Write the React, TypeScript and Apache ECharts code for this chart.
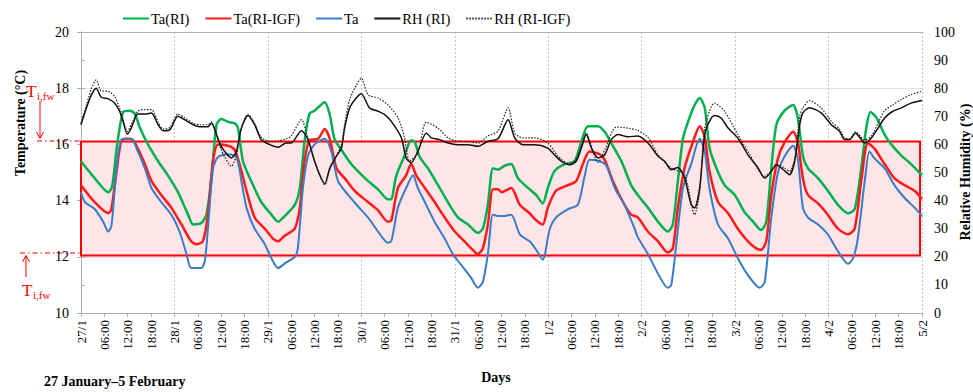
import React, { useEffect, useRef } from "react";
import * as echarts from "echarts";

const dayLabels = ["27/1", "28/1", "29/1", "30/1", "31/1", "1/2", "2/2", "3/2", "4/2", "5/2"];
const hourLabels = ["06:00", "12:00", "18:00"];
const legendNames = ["Ta(RI)", "Ta(RI-IGF)", "Ta", "RH (RI)", "RH (RI-IGF)"];
const comfortBand = [12.05, 16.1];

// [hour since 27/1 00:00, °C]
const taRI: [number, number][] = [
  [0, 15.4], [3.5, 14.8], [7, 14.3], [8, 14.5], [9.2, 15.9], [10.8, 17.15], [12.5, 17.2], [13.8, 17.1], [15.1, 16.6], [17.2, 16.0],
  [19.8, 15.4], [22.3, 14.9], [24.9, 14.3], [27.5, 13.5], [28.8, 13.15], [30.9, 13.2], [32.2, 13.5], [33.5, 14.8], [34.8, 16.7], [36, 16.9],
  [37.8, 16.8], [39.5, 16.75], [40.3, 16.6], [41.6, 15.4], [43.7, 14.7], [46.3, 13.95], [48.9, 13.5], [50.6, 13.25], [52.3, 13.45], [54.9, 13.85],
  [56.2, 14.45], [57.4, 16.1], [58.7, 17.1], [60, 17.2], [62.6, 17.5], [63.9, 17.05], [65.1, 16.2], [66.9, 15.8], [69.4, 15.3], [71.1, 15.05],
  [73.7, 14.7], [76.3, 14.4], [78.8, 14.05], [79.6, 14.05], [81, 14.9], [83.1, 15.6], [84.8, 16.15], [85.7, 16.1], [87, 15.55], [89.1, 15.15],
  [91.7, 14.55], [94.2, 13.95], [96.8, 13.4], [99.4, 13.15], [101.9, 12.85], [103.2, 13.0], [104.5, 13.85], [105.8, 15.15], [107.1, 15.1], [108.9, 15.25],
  [110.5, 15.3], [112.2, 14.8], [114.8, 14.45], [116.9, 14.2], [118.6, 13.9], [119.9, 14.45], [121.6, 15.05], [124.2, 15.3], [126.8, 15.4], [128.5, 16.1],
  [130.2, 16.65], [132.8, 16.65], [134.5, 16.45], [136.2, 16.05], [138.8, 15.4], [141.3, 14.55], [143, 14.2], [145.6, 13.75], [148.2, 13.25], [150.7, 12.9],
  [152, 13.15], [153.3, 14.7], [154.6, 16.2], [155.9, 16.8], [157.6, 17.4], [158.9, 17.65], [160.2, 17.3], [161.4, 15.9], [163.2, 15.15], [165.3, 14.55],
  [167.9, 14.2], [170.4, 13.6], [172.6, 13.25], [174.7, 12.95], [176, 13.25], [177.3, 15.15], [178.6, 16.7], [180.7, 17.2], [182.9, 17.4], [184.1, 16.95],
  [185.4, 15.6], [186.7, 15.15], [189.3, 14.8], [191.8, 14.35], [194.4, 13.85], [197, 13.55], [198.7, 13.7], [200.4, 15.15], [201.7, 16.6], [202.8, 17.15],
  [204.3, 16.95], [206.4, 16.35], [208.1, 16.0], [210.7, 15.6], [213.2, 15.3], [216, 14.9],
];

const taRIIGF: [number, number][] = [
  [0, 14.55], [3.5, 13.95], [7, 13.55], [7.8, 13.7], [9, 14.9], [10.4, 16.15], [12, 16.2], [13.4, 16.15], [14.6, 15.85], [16.4, 15.3],
  [18.1, 14.7], [20.6, 14.2], [23.2, 13.75], [25.8, 13.15], [28.3, 12.55], [29.6, 12.45], [31.3, 12.55], [32.6, 13.5], [33.9, 15.4], [35.2, 16.0],
  [37.8, 15.95], [39.5, 15.8], [41.2, 15.05], [42.5, 14.35], [44.6, 13.4], [47.2, 13.0], [49.3, 12.65], [50.6, 12.55], [52.3, 12.75], [54.9, 13.0],
  [56.2, 13.75], [57.4, 15.4], [58.7, 16.15], [60.9, 16.2], [62.6, 16.55], [63.9, 16.2], [65.6, 15.15], [67.7, 14.8], [70.3, 14.35], [73.7, 13.95],
  [76.3, 13.65], [78.8, 13.25], [79.7, 13.3], [81.4, 14.45], [83.5, 14.9], [84.8, 15.3], [86.1, 14.9], [88.3, 14.45], [90.8, 13.95], [93.4, 13.4],
  [96, 12.9], [98.5, 12.55], [100.2, 12.3], [101.9, 12.1], [103.2, 12.3], [104.5, 13.15], [105.8, 14.4], [107.1, 14.4], [108, 14.3], [110.5, 14.45],
  [112.7, 13.85], [115.2, 13.55], [116.9, 13.3], [118.6, 13.15], [119.9, 13.75], [122, 14.35], [125.1, 14.55], [127.2, 14.7], [128.9, 15.3], [130.6, 15.75],
  [133.2, 15.65], [134.5, 15.45], [136.6, 14.7], [139.2, 13.95], [141.3, 13.5], [143, 13.4], [145.6, 12.9], [148.2, 12.55], [150.7, 12.15], [152, 12.3],
  [153.3, 13.75], [155, 15.15], [157.2, 16.1], [158.9, 16.65], [160.2, 16.25], [161.4, 15.05], [163.6, 13.95], [166.2, 13.55], [168.7, 13.0], [171.3, 12.55],
  [173.4, 12.3], [174.7, 12.25], [176, 12.55], [177.3, 14.2], [179, 15.5], [180.8, 16.1], [182.9, 16.45], [184.1, 16.1], [185.4, 14.8], [186.7, 14.2],
  [189.3, 13.9], [191.8, 13.5], [194.4, 13.0], [197, 12.8], [198.7, 13.0], [200.4, 14.7], [202.1, 16.05], [203.8, 15.85], [206.4, 15.3], [208.9, 14.8],
  [211.5, 14.55], [214.1, 14.35], [216, 14.05],
];

const ta: [number, number][] = [
  [0, 14.3], [1, 13.95], [3.5, 13.7], [5.7, 13.25], [7, 12.9], [7.8, 13.1], [8.6, 14.3], [9.6, 15.7], [10.8, 16.2], [12.9, 16.2],
  [14.6, 15.75], [16.4, 15.15], [18.1, 14.45], [20.6, 13.95], [23.2, 13.5], [25.3, 12.9], [27.1, 12.1], [28.3, 11.6], [30.9, 11.6], [31.8, 11.85],
  [32.6, 13.0], [33.9, 15.15], [35.2, 15.55], [37.8, 15.65], [39.9, 15.55], [41.2, 14.7], [42.5, 13.75], [44.6, 13.0], [47.2, 12.45], [48.9, 11.95],
  [50.6, 11.6], [52.7, 11.8], [54.9, 12.0], [55.7, 12.3], [57, 14.45], [58.3, 15.6], [60, 16.0], [62.6, 16.2], [64.3, 15.75], [66, 14.7],
  [68.6, 14.2], [71.1, 13.8], [73.7, 13.4], [76.3, 12.9], [78.8, 12.5], [79.7, 12.55], [81.4, 13.75], [83.5, 14.45], [85.3, 14.9], [86.5, 14.45],
  [88.3, 13.95], [90.8, 13.25], [93.4, 12.65], [95.5, 12.1], [97.7, 11.7], [100.2, 11.25], [101.9, 10.9], [103.2, 11.1], [104.5, 12.1], [105.8, 13.5],
  [107.1, 13.45], [108.5, 13.45], [110.5, 13.5], [112.7, 12.8], [115.2, 12.55], [116.9, 12.25], [118.6, 11.9], [120.4, 13.0], [122, 13.4], [125.1, 13.7],
  [127.6, 13.85], [129.4, 14.9], [130.6, 15.45], [133.2, 15.4], [134.9, 15.25], [137.1, 14.45], [139.6, 13.85], [142.2, 13.0], [143, 12.7], [145.6, 12.1],
  [148.2, 11.4], [150.7, 10.9], [151.6, 11.0], [152.9, 12.45], [154.6, 14.45], [156.7, 15.3], [158.9, 16.2], [160.2, 15.75], [161.4, 14.45], [163.6, 13.15],
  [166.2, 12.65], [168.7, 11.95], [171.3, 11.35], [174.3, 10.9], [175.6, 11.1], [177.3, 13.4], [179, 15.0], [180.8, 15.6], [182.9, 15.95], [184.1, 15.5],
  [185.4, 13.75], [186.7, 13.4], [189.3, 13.15], [191.8, 12.8], [194.4, 12.2], [197, 11.75], [198.3, 11.95], [199.5, 12.65], [201.3, 14.7], [202.5, 15.75],
  [203.8, 15.5], [206.4, 15.15], [208.9, 14.55], [211.5, 14.1], [214.1, 13.75], [216, 13.45],
];

// [hour, %]
const rhRI: [number, number][] = [
  [0, 67], [1.4, 73], [2.7, 77.7], [3.9, 80], [5.2, 76.8], [7, 76.2], [8.6, 74.7], [9.9, 71.8], [10.8, 68.2], [11.9, 63.7],
  [12.9, 65.8], [14.6, 70.8], [16.4, 70.8], [18.1, 71.2], [19.8, 67], [21.1, 64.9], [22.8, 65.2], [24.9, 70], [26.6, 68.8], [28.8, 67],
  [30.5, 66.3], [32.6, 66.3], [33.5, 67.6], [34.8, 63.5], [36, 59.3], [36.9, 57.5], [38.6, 55.2], [39.9, 57.5], [41.2, 65.8], [42.9, 70.3],
  [44.6, 67], [46.3, 61.7], [48.5, 59.9], [50.6, 59], [52.7, 60.5], [54, 60.5], [56.6, 64.9], [58.3, 61.7], [60, 54], [61.3, 49.2],
  [62.6, 45.9], [63.9, 51.6], [65.6, 55.8], [66.9, 58.7], [67.7, 65.8], [69, 73], [70.7, 76.5], [72, 78], [74.1, 73], [76.3, 71.8],
  [78, 70.6], [79.7, 68.2], [82.3, 62.3], [83.5, 55.2], [84.8, 53.4], [86.5, 57.5], [88.7, 64.1], [90, 62.3], [92.1, 61.7], [94.3, 60.5],
  [96.8, 59.9], [99.4, 59.9], [102, 59.3], [104.5, 61.1], [107.1, 62], [109.7, 68.8], [111.4, 62.3], [113.5, 59.9], [116.5, 59.9], [119.9, 58.7],
  [121.6, 56.3], [123.4, 54], [125.5, 52.8], [127.2, 54], [128.5, 58.7], [129.8, 63.5], [131.1, 58.7], [132.8, 55.2], [134.5, 56.3], [136.2, 61.7],
  [137.9, 63.5], [140.5, 62.7], [143, 63], [145.6, 60.5], [148.2, 55.8], [149.9, 54], [151.6, 51], [153.3, 51.8], [155, 48.1], [156.7, 38.6],
  [157.6, 37.4], [158.9, 44.5], [160.2, 63.5], [161.4, 68.2], [162.7, 70.3], [164.4, 69.4], [166.2, 65.8], [168.7, 62.3], [171.3, 56.3], [173.9, 51.6],
  [175.6, 48], [177.3, 50.4], [178.6, 52.8], [180.8, 50.5], [182, 49.2], [183.3, 54], [184.6, 67], [185.4, 71.2], [187.1, 73], [190.1, 71.2],
  [192.7, 67], [194.8, 64.7], [196.1, 61.7], [197.4, 61.7], [198.9, 64.1], [200, 62.5], [201.3, 60.5], [203, 62.3], [204.7, 65.8], [206.4, 69.4],
  [208.5, 71.8], [210.7, 73], [213.2, 74.7], [216, 75.6],
];

const rhRIIGF: [number, number][] = [
  [0, 67.5], [1.4, 74], [2.7, 80], [3.9, 83], [5.2, 79], [7, 78.9], [8.6, 77.1], [9.9, 73], [10.8, 69], [11.9, 64.6],
  [12.9, 67], [14.6, 71.8], [16.4, 72.4], [18.1, 72.4], [19.8, 68], [21.1, 65.5], [22.8, 66], [24.9, 70.8], [26.6, 69.5], [28.8, 67.5],
  [30.5, 67], [32.6, 67], [33.5, 68], [34.8, 63], [36, 58.1], [36.9, 55.5], [38.6, 52.2], [39.9, 56], [41.2, 65.8], [42.9, 70.8],
  [44.6, 67.5], [46.3, 62.5], [48.5, 61], [50.6, 61.2], [52.7, 62], [54, 63], [56.6, 68.8], [58.3, 62], [60, 54], [61.3, 49],
  [62.6, 45.6], [63.9, 51], [65.6, 56], [66.9, 60], [67.7, 67], [69, 76], [70.7, 81], [72, 83.6], [73.7, 77.7], [76.3, 76.5],
  [78.8, 74.1], [81.4, 69.5], [83, 63], [84.4, 54], [86.5, 57], [88.7, 67.9], [91.7, 65.8], [94.3, 62.3], [96.8, 61.1], [99.4, 61],
  [102, 60.5], [104.5, 63], [107.1, 64.7], [109.7, 73], [111.4, 64], [113.5, 62.3], [116.5, 62.3], [119.9, 60.5], [122.4, 56], [125.5, 52.8],
  [127.6, 56], [129.8, 64.1], [131.5, 57.5], [132.8, 53.6], [134.5, 58], [137.5, 66.2], [140.5, 65.8], [143, 65], [145.6, 62.5], [148.2, 56.3],
  [151.6, 51.6], [155, 49.2], [157.6, 35], [158.9, 43], [160.2, 65.8], [162.7, 74.7], [165.3, 71.8], [168.7, 63.5], [171.3, 57.5], [175.6, 48.6],
  [177.3, 50.5], [178.6, 53], [180.8, 51.5], [182, 50.4], [183.3, 55], [184.6, 70], [185.4, 73], [187.1, 75.6], [190.1, 73], [192.7, 68.2],
  [194.8, 65.5], [196.1, 62.3], [197.4, 62], [198.9, 64.5], [201.3, 61.6], [203, 63], [204.7, 67.5], [206.4, 72], [208.5, 74.1], [210.7, 76],
  [213.2, 77.7], [216, 78.9],
];

const SERIF = "'Liberation Serif', 'Times New Roman', serif";
const RED = "#ff0000";

export default function App() {
  const ref = useRef<HTMLDivElement>(null);

  useEffect(() => {
    const chart = echarts.init(ref.current!, null, { renderer: "svg" });
    const xLabel = (v: number) => {
      const h = Math.round(v);
      const r = h % 24;
      return r === 0 ? dayLabels[h / 24] : hourLabels[r / 6 - 1];
    };
    const lineSeries = (name: string, data: [number, number][], color: string, width: number, yAxisIndex: number, type: any = "solid") => ({
      name,
      type: "line",
      data,
      yAxisIndex,
      xAxisIndex: 0,
      symbol: "none",
      legendIcon: "none",
      smooth: 0.25,
      z: 3,
      lineStyle: { color, width, type },
      itemStyle: { color },
    });
    const txt = (text: string, x: number, y: number, opts: any = {}) => ({
      type: "text",
      x,
      y,
      rotation: opts.rotation || 0,
      style: {
        text,
        fill: opts.fill || "#000",
        font: `${opts.bold ? "bold " : ""}${opts.size || 14}px ${SERIF}`,
        textAlign: opts.align || "left",
        textVerticalAlign: "middle",
        align: opts.align || "left",
        verticalAlign: "middle",
      },
    });
    chart.setOption({
      animation: false,
      textStyle: { fontFamily: SERIF },
      grid: { left: 81, right: 51, top: 32, bottom: 79, containLabel: false },
      legend: {
        data: legendNames,
        left: 117,
        top: 6,
        itemGap: 15,
        itemWidth: 26,
        itemHeight: 12,
        itemStyle: { opacity: 0 },
        textStyle: { fontFamily: SERIF, fontSize: 14.5, color: "#000", padding: [0, 0, 0, -3] },
      },
      xAxis: [
        {
          type: "value",
          min: 0,
          max: 216,
          interval: 6,
          axisLine: { show: true, lineStyle: { color: "#b0b0b0", width: 1 } },
          axisTick: { show: true, length: 4, lineStyle: { color: "#b0b0b0" } },
          axisLabel: { rotate: 90, margin: 7, fontSize: 13, color: "#000", fontFamily: SERIF, formatter: xLabel, showMinLabel: true, showMaxLabel: true },
          splitLine: { show: false },
        },
        {
          type: "value",
          min: 0,
          max: 216,
          interval: 24,
          position: "top",
          axisLine: { show: true, lineStyle: { color: "#b0b0b0", width: 1 } },
          axisTick: { show: false },
          axisLabel: { show: false },
          splitLine: { show: true, lineStyle: { color: "#c4c4c4", type: [2, 2], width: 1 } },
        },
      ],
      yAxis: [
        {
          type: "value",
          min: 10,
          max: 20,
          interval: 2,
          axisLine: { show: true, lineStyle: { color: "#b0b0b0" } },
          axisTick: { show: true, length: 4, lineStyle: { color: "#b0b0b0" } },
          axisLabel: { margin: 12, fontSize: 14, color: "#000", fontFamily: SERIF },
          splitLine: { show: true, lineStyle: { color: "#e4e4e4", width: 1 } },
        },
        {
          type: "value",
          min: 0,
          max: 100,
          interval: 10,
          position: "right",
          axisLine: { show: true, lineStyle: { color: "#b0b0b0" } },
          axisTick: { show: true, length: 4, lineStyle: { color: "#b0b0b0" } },
          axisLabel: { margin: 12, fontSize: 14, color: "#000", fontFamily: SERIF },
          splitLine: { show: false },
        },
      ],
      series: [
        {
          name: "band",
          type: "line",
          data: [],
          xAxisIndex: 0,
          yAxisIndex: 0,
          z: 1,
          silent: true,
          markArea: {
            silent: true,
            itemStyle: { color: "#fde5e8", borderColor: RED, borderWidth: 2 },
            data: [[{ xAxis: 0, yAxis: comfortBand[0] }, { xAxis: 215.5, yAxis: comfortBand[1] }]],
          },
        },
        lineSeries(legendNames[0], taRI, "#00b050", 2.5, 0),
        lineSeries(legendNames[1], taRIIGF, "#ff1a1a", 2.5, 0),
        lineSeries(legendNames[2], ta, "#3a7cc4", 2, 0),
        lineSeries(legendNames[3], rhRI, "#111111", 1.5, 1),
        lineSeries(legendNames[4], rhRIIGF, "#222222", 1.2, 1, [1.5, 1.5]),
      ],
      graphic: [
        txt("Temperature (°C)", 20, 123, { bold: true, size: 14, align: "center", rotation: Math.PI / 2 }),
        txt("Relative Humidity (%)", 965, 172, { bold: true, size: 14, align: "center", rotation: Math.PI / 2 }),
        txt("Days", 496, 377, { bold: true, size: 14, align: "center" }),
        txt("27 January–5 February", 44, 381, { bold: true, size: 14 }),
        // upper threshold annotation
        txt("T", 26, 91, { size: 17, fill: RED }),
        txt("i,fw", 37, 96, { size: 11, fill: RED }),
        { type: "line", shape: { x1: 40, y1: 101, x2: 40, y2: 138 }, style: { stroke: RED, lineWidth: 1 } },
        { type: "polyline", shape: { points: [[36.5, 132], [40, 138.5], [43.5, 132]] }, style: { stroke: RED, lineWidth: 1, fill: "none" } },
        { type: "line", shape: { x1: 37, y1: 141, x2: 81, y2: 141 }, style: { stroke: RED, lineWidth: 1, lineDash: [5, 3, 1.5, 3] } },
        // lower threshold annotation
        { type: "line", shape: { x1: 20, y1: 253, x2: 81, y2: 253 }, style: { stroke: RED, lineWidth: 1, lineDash: [5, 3, 1.5, 3] } },
        { type: "line", shape: { x1: 26, y1: 256, x2: 26, y2: 277 }, style: { stroke: RED, lineWidth: 1 } },
        { type: "polyline", shape: { points: [[22.5, 262], [26, 255.5], [29.5, 262]] }, style: { stroke: RED, lineWidth: 1, fill: "none" } },
        txt("T", 22, 290, { size: 17, fill: RED }),
        txt("i,fw", 33, 295, { size: 11, fill: RED }),
      ],
    });
    return () => chart.dispose();
  }, []);

  return <div ref={ref} style={{ position: "absolute", left: 0, top: 0, width: 973, height: 392 }} />;
}
